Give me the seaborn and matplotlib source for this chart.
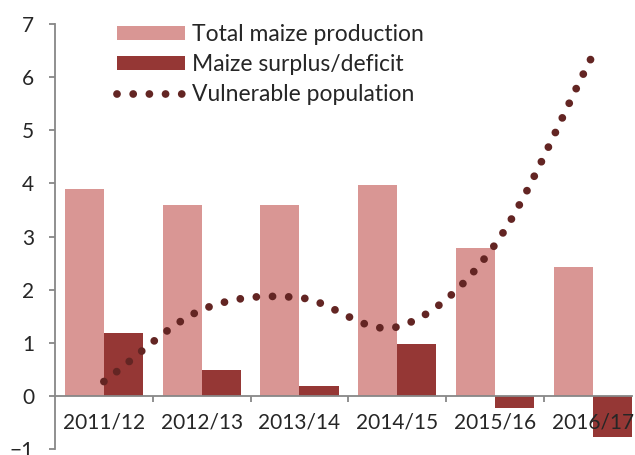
import numpy as np
import pandas as pd
import matplotlib
matplotlib.use("Agg")
import matplotlib.pyplot as plt
from matplotlib.path import Path
from matplotlib.patches import PathPatch, Patch
from matplotlib.lines import Line2D
import seaborn as sns

# Данные
seasons = ["2011/12", "2012/13", "2013/14", "2014/15", "2015/16", "2016/17"]
total_production = [3.90, 3.60, 3.60, 3.98, 2.78, 2.43]
surplus_deficit = [1.19, 0.49, 0.18, 0.98, -0.23, -0.78]
vulnerable = [0.27, 1.62, 1.85, 1.30, 2.85, 6.42]
series_names = ["Total maize production", "Maize surplus/deficit", "Vulnerable population"]

LIGHT = "#D99694"
DARK = "#953735"
LINE = "#632523"
AXIS = "#878787"

df = pd.DataFrame({
    "season": seasons * 2,
    "value": total_production + surplus_deficit,
    "series": [series_names[0]] * len(seasons) + [series_names[1]] * len(seasons),
})

sns.set_style("ticks")
plt.rcParams["font.family"] = ["Lato", "DejaVu Sans"]

fig, ax = plt.subplots(figsize=(6.35, 4.55), dpi=100)
fig.subplots_adjust(left=0.0866, right=0.9953, bottom=0.0132, top=0.947)

sns.barplot(data=df, x="season", y="value", hue="series", palette=[LIGHT, DARK],
            saturation=1, width=0.8, linewidth=0, legend=False, ax=ax)

# --- сглаженная линия (Bezier, как в Excel) ---
n = len(seasons)
pts = np.column_stack([np.arange(n), vulnerable])
tang = np.zeros_like(pts)
tang[1:-1] = (pts[2:] - pts[:-2]) / 2
tang[0] = pts[1] - pts[0]
tang[-1] = pts[-1] - pts[-2]
verts = [pts[0]]
codes = [Path.MOVETO]
for i in range(n - 1):
    verts += [pts[i] + tang[i] / 3, pts[i + 1] - tang[i + 1] / 3, pts[i + 1]]
    codes += [Path.CURVE4] * 3
dots = (0, (0.001, 2.08))
ax.add_patch(PathPatch(Path(verts, codes), fill=False, edgecolor=LINE, lw=5.6,
                       linestyle=dots, capstyle="round", zorder=5))

# --- оси ---
ax.set_axisbelow(False)
ax.set_ylim(-1, 7)
ax.set_yticks(range(-1, 8))
ax.set_xlim(-0.5, 5.4)
ax.spines["bottom"].set_position(("data", 0))
ax.spines[["top", "right"]].set_visible(False)
for s in ["left", "bottom"]:
    ax.spines[s].set_color(AXIS)
    ax.spines[s].set_linewidth(1.3)
ax.set_xticks(np.arange(0.5, 5, 1), minor=True)
ax.tick_params(axis="x", which="major", length=0, pad=12, labelsize=15)
ax.tick_params(axis="x", which="minor", length=4, width=1.3, color=AXIS, direction="out")
ax.tick_params(axis="y", length=4, width=1.3, color=AXIS, pad=11, labelsize=15)
ax.set_xlabel("")
ax.set_ylabel("")

handles = [
    Patch(facecolor=LIGHT, edgecolor="none"),
    Patch(facecolor=DARK, edgecolor="none"),
    Line2D([], [], color=LINE, lw=5.6, linestyle=dots, dash_capstyle="round"),
]
ax.legend(handles, series_names, loc="upper left", frameon=False, fontsize=16.5,
          bbox_to_anchor=(117 / 635, 1 - 24 / 455), bbox_transform=fig.transFigure,
          borderaxespad=0, borderpad=0, handlelength=2.97, handleheight=0.6,
          handletextpad=0.3, labelspacing=0.4)

fig.savefig("out.png", dpi=100)
